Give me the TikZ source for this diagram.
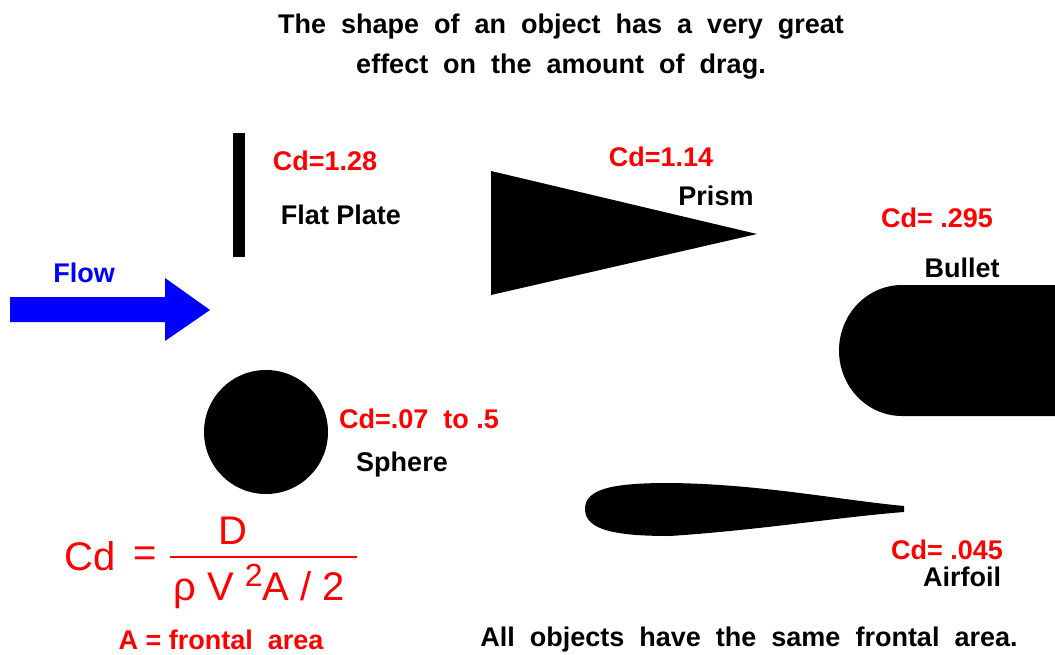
\documentclass[tikz,border=0pt]{standalone}
\usepackage{fontspec}
\setmainfont{Liberation Sans}
\definecolor{flowblue}{RGB}{0,0,255}
\definecolor{cdred}{RGB}{255,0,0}
\begin{document}
\begin{tikzpicture}[x=1pt,y=-1pt,
  lbl/.style={font=\fontsize{27}{30}\selectfont\bfseries, inner sep=0pt, anchor=center},
  redlbl/.style={lbl, text=cdred},
  body/.style={fill=black, draw=none},
  eq/.style={font=\fontsize{40}{44}\selectfont, text=cdred, inner sep=0pt, anchor=center}]
\useasboundingbox (0,0) rectangle (1055,655);
% title
\node[lbl] (t1) at (561,27) {The\ \ shape\ \ of\ \ an\ \ object\ \ has\ \ a\ \ very\ \ great};
\node[lbl] (t2) at (561,67) {effect\ \ on\ \ the\ \ amount\ \ of\ \ drag.};
% flow arrow
\fill[flowblue] (10,297) -- (165,297) -- (165,278) -- (210,310) -- (165,341) -- (165,322) -- (10,322) -- cycle;
\node[lbl, text=flowblue] (flow) at (84,273) {Flow};
% flat plate
\fill[body] (233,133) rectangle (245,257);
\node[redlbl] (cd1) at (325,161) {Cd=1.28};
\node[lbl] (fp) at (341,215) {Flat Plate};
% prism
\fill[body] (491,171) -- (757,234) -- (491,295) -- cycle;
\node[redlbl] (cd2) at (661,157) {Cd=1.14};
\node[lbl] (pr) at (716,196) {Prism};
% bullet
\fill[body] (1055,285) -- (902,285) arc[start angle=270, end angle=90, x radius=63, y radius=65.5] -- (1055,416) -- cycle;
\node[redlbl] (cd3) at (937,218) {Cd= .295};
\node[lbl] (bu) at (962,268) {Bullet};
% sphere
\fill[body] (266,432) circle[radius=62];
\node[redlbl] (cd4) at (419,419) {Cd=.07\ \ to .5};
\node[lbl] (sp) at (402,465) {Sphere};
% airfoil
\fill[body] (585,509) .. controls (585,488) and (615,483) .. (670,483)
  .. controls (760,484) and (840,500) .. (904,506) -- (904,512)
  .. controls (840,517) and (760,530) .. (670,536)
  .. controls (615,536) and (585,530) .. (585,509) -- cycle;
\node[redlbl] (cd5) at (947,550) {Cd= .045};
\node[lbl] (af) at (962,577) {Airfoil};
% formula
\node[eq] (cd) at (90,556) {Cd};
\node[eq] (equ) at (145,557) {=};
\node[eq] (num) at (233,531) {D};
\draw[cdred, line width=2.5pt] (170,557) -- (357,557);
\node[eq, anchor=base west] (den) at (173,600) {ρ\ V\ \raisebox{14pt}{\fontsize{32}{34}\selectfont 2}A\ /\ 2};
\node[redlbl] (fa) at (221,640) {A = frontal\ \ area};
\node[lbl] (same) at (749,640) {All\ \ objects\ \ have\ \ the\ \ same\ \ frontal\ \ area.};
\end{tikzpicture}
\end{document}
